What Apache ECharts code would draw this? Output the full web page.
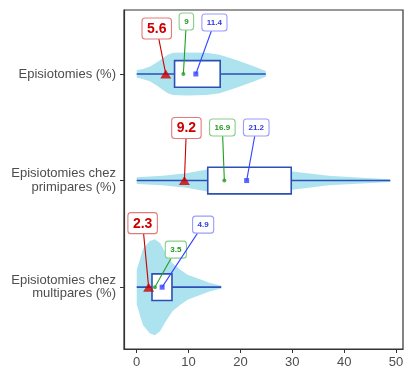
<!DOCTYPE html>
<html><head><meta charset="utf-8">
<script src="https://cdn.jsdelivr.net/npm/echarts@6/dist/echarts.min.js"></script>
<style>html,body{margin:0;padding:0;background:#fff}#c{width:419px;height:379px}</style>
</head><body><div id="c"></div>
<script>
// ---------- data ----------
const categories = ['Episiotomies (%)', 'Episiotomies chez\nprimipares (%)', 'Episiotomies chez\nmultipares (%)'];
const xTicks = [0, 10, 20, 30, 40, 50];
const boxMin = [0, 0, 0];
const boxQ1 = [7.3, 13.7, 2.95];
const boxQ3 = [16.1, 29.8, 6.8];
const boxMax = [24.9, 48.9, 16.3];
const redValues = [5.6, 9.2, 2.3];
const greenValues = [9, 16.9, 3.5];
const blueValues = [11.4, 21.2, 4.9];
// violin densities (relative to the largest density of all violins)
const violin1X = [0, 1, 2.5, 4, 5, 6, 7, 9.6, 13.4, 16, 19.2, 22.3, 24.9];
const violin1D = [0.08, 0.10, 0.15, 0.25, 0.33, 0.40, 0.44, 0.45, 0.44, 0.40, 0.29, 0.17, 0.06];
const violin2X = [0, 5, 9.6, 13.6, 17, 21, 25, 30, 37, 43.4, 48.9];
const violin2D = [0.07, 0.10, 0.15, 0.23, 0.25, 0.25, 0.23, 0.19, 0.10, 0.06, 0.03];
const violin3X = [0, 1.2, 2.5, 3.5, 4.5, 5.5, 6.9, 8.3, 9.8, 12.1, 14, 16.3];
const violin3D = [0.36, 0.79, 0.96, 1.0, 0.92, 0.73, 0.50, 0.375, 0.26, 0.17, 0.09, 0.03];

// ---------- layout / style ----------
const violinXs = [violin1X, violin2X, violin3X];
const violinDs = [violin1D, violin2D, violin3D];
const FONT = '"Liberation Sans", Arial, Helvetica, sans-serif';
const labelOffsets = {
  red:   [[-9, -45.5], [2, -52.5], [-6, -64]],
  green: [[3, -52.5], [-2, -53], [21, -37.5]],
  blue:  [[18.6, -51.5], [9.6, -53], [41, -62.5]]
};
const labelStyles = {
  red:   {text: '#cc0000', border: '#e27a7a', line: '#cc0000', font: 'bold 14px ' + FONT, size: 14, pad: [2, 4]},
  green: {text: '#1f9a1f', border: '#86cf86', line: '#1f9f1f', font: 'bold 8px ' + FONT, size: 8, pad: [3, 4]},
  blue:  {text: '#2e3be0', border: '#9a9cff', line: '#3344ff', font: 'bold 8px ' + FONT, size: 8, pad: [3, 4]}
};
const ctx = document.createElement('canvas').getContext('2d');
function measure(t, font) { ctx.font = font; return ctx.measureText(t).width; }

const labelData = [];
['red', 'green', 'blue'].forEach(function (k) {
  const vals = k === 'red' ? redValues : (k === 'green' ? greenValues : blueValues);
  vals.forEach(function (v, i) { labelData.push([v, i + 1, k, i]); });
});

const chart = echarts.init(document.getElementById('c'), null, {renderer: 'canvas'});
chart.setOption({
  animation: false,
  grid: {left: 124, right: 16, top: 10, bottom: 30, show: true, borderColor: '#333', borderWidth: 1.2, backgroundColor: 'transparent'},
  xAxis: {
    type: 'value', min: -2.45, max: 51.35,
    axisLine: {show: true, onZero: false, lineStyle: {color: '#333', width: 1.2}},
    axisTick: {show: true, customValues: xTicks, length: 4, lineStyle: {color: '#333'}},
    axisLabel: {customValues: xTicks, color: '#4d4d4d', fontSize: 13, fontFamily: FONT, margin: 7},
    splitLine: {show: false}
  },
  yAxis: {
    type: 'value', min: 0.4, max: 3.58, inverse: true,
    axisLine: {show: true, onZero: false, lineStyle: {color: '#333', width: 1.2}},
    axisTick: {show: true, customValues: [1, 2, 3], length: 4, lineStyle: {color: '#333'}},
    axisLabel: {customValues: [1, 2, 3], formatter: function (v) { return categories[Math.round(v) - 1]; },
      color: '#4d4d4d', fontSize: 13, fontFamily: FONT, margin: 8, lineHeight: 13.5, align: 'right'},
    splitLine: {show: false}
  },
  series: [
    {
      type: 'custom', z: 1,
      data: categories.map(function (c, i) { return [boxMax[i], i + 1]; }),
      renderItem: function (params, api) {
        const i = params.dataIndex, xs = violinXs[i], ds = violinDs[i];
        const pts = [];
        for (let k = 0; k < xs.length; k++) pts.push(api.coord([xs[k], i + 1 - ds[k] * 0.45]));
        for (let k = xs.length - 1; k >= 0; k--) pts.push(api.coord([xs[k], i + 1 + ds[k] * 0.45]));
        return {type: 'polygon', shape: {points: pts}, style: {fill: '#ade3ee', stroke: null}};
      }
    },
    {
      type: 'custom', z: 2,
      data: categories.map(function (c, i) { return [boxMin[i], boxQ1[i], boxQ3[i], boxMax[i], i + 1]; }),
      renderItem: function (params, api) {
        const y = api.value(4);
        const a = api.coord([api.value(0), y]), b = api.coord([api.value(3), y]);
        const q1 = api.coord([api.value(1), y]), q3 = api.coord([api.value(2), y]);
        const h = api.size([0, 0.25])[1];
        return {type: 'group', children: [
          {type: 'line', shape: {x1: a[0], y1: a[1], x2: b[0], y2: b[1]}, style: {stroke: '#2d4fb8', lineWidth: 1.6}},
          {type: 'rect', shape: {x: q1[0], y: q1[1] - h / 2, width: q3[0] - q1[0], height: h}, style: {fill: '#fff', stroke: '#2d4fb8', lineWidth: 1.6}}
        ]};
      }
    },
    {
      type: 'custom', z: 3,
      data: labelData,
      renderItem: function (params, api) {
        const d = labelData[params.dataIndex];
        const kind = d[2], idx = d[3], st = labelStyles[kind];
        const p = api.coord([api.value(0), api.value(1)]);
        const off = labelOffsets[kind][idx];
        const cx = p[0] + off[0], cy = p[1] + off[1];
        const txt = String(d[0]);
        const w = measure(txt, st.font) + 2 * st.pad[1] + 2;
        const h = st.size + 2 * st.pad[0] + 3;
        const dx = p[0] - cx, dy = p[1] - cy;
        const t = Math.min(Math.abs(dx) > 0 ? (w / 2) / Math.abs(dx) : Infinity, Math.abs(dy) > 0 ? (h / 2) / Math.abs(dy) : Infinity);
        const ex = cx + dx * t, ey = cy + dy * t;
        return {type: 'group', children: [
          {type: 'line', shape: {x1: ex, y1: ey, x2: p[0], y2: p[1]}, style: {stroke: st.line, lineWidth: 1.1}},
          {type: 'rect', shape: {x: cx - w / 2, y: cy - h / 2, width: w, height: h, r: 3}, style: {fill: '#fff', stroke: st.border, lineWidth: 1.1}},
          {type: 'text', x: cx, y: cy + 0.5, style: {text: txt, fill: st.text, font: st.font, align: 'center', verticalAlign: 'middle'}}
        ]};
      }
    },
    {
      type: 'scatter', z: 4, symbol: 'triangle', symbolSize: [11, 9],
      itemStyle: {color: '#cc0000'},
      data: redValues.map(function (v, i) { return [v, i + 1]; })
    },
    {
      type: 'scatter', z: 4, symbol: 'circle', symbolSize: 4,
      itemStyle: {color: '#1f9f1f'},
      data: greenValues.map(function (v, i) { return [v, i + 1]; })
    },
    {
      type: 'scatter', z: 4, symbol: 'rect', symbolSize: 5,
      itemStyle: {color: '#3344ff'},
      data: blueValues.map(function (v, i) { return [v, i + 1]; })
    }
  ]
});
</script></body></html>
